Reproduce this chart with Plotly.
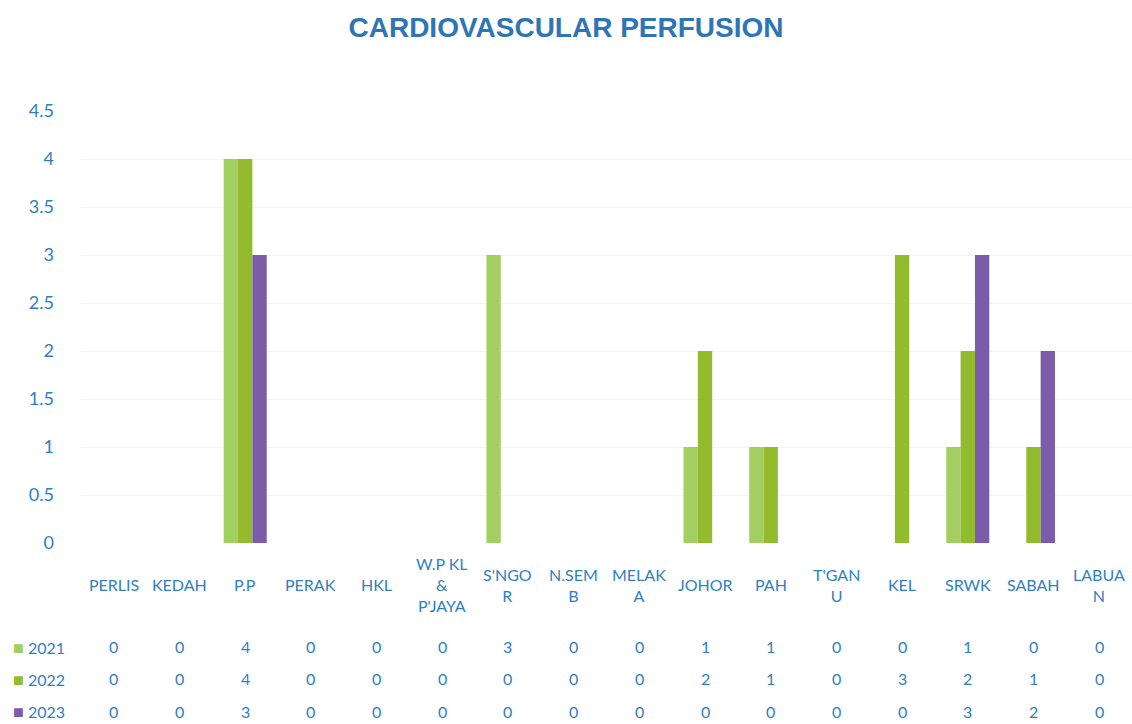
import plotly.graph_objects as go

categories = ["PERLIS", "KEDAH", "P.P", "PERAK", "HKL", "W.P KL & P'JAYA", "S'NGOR",
              "N.SEMB", "MELAKA", "JOHOR", "PAH", "T'GANU", "KEL", "SRWK", "SABAH", "LABUAN"]
cat_labels = ["PERLIS", "KEDAH", "P.P", "PERAK", "HKL", "W.P KL<br>&<br>P'JAYA", "S'NGO<br>R",
              "N.SEM<br>B", "MELAK<br>A", "JOHOR", "PAH", "T'GAN<br>U", "KEL", "SRWK", "SABAH", "LABUA<br>N"]
years = ["2021", "2022", "2023"]
v2021 = [0, 0, 4, 0, 0, 0, 3, 0, 0, 1, 1, 0, 0, 1, 0, 0]
v2022 = [0, 0, 4, 0, 0, 0, 0, 0, 0, 2, 1, 0, 3, 2, 1, 0]
v2023 = [0, 0, 3, 0, 0, 0, 0, 0, 0, 0, 0, 0, 0, 3, 2, 0]
series = [v2021, v2022, v2023]
colors = ["#a3cf62", "#93bb2e", "#7b5ca8"]
y_ticks = [0, 0.5, 1, 1.5, 2, 2.5, 3, 3.5, 4, 4.5]
y_tick_text = ["0", "0.5", "1", "1.5", "2", "2.5", "3", "3.5", "4", "4.5"]

blue = "#2f7fc1"
font_fam = "Lato, 'Open Sans', sans-serif"

fig = go.Figure()
for yr, vals, col in zip(years, series, colors):
    fig.add_trace(go.Bar(x=categories, y=vals, name=yr, marker=dict(color=col, line=dict(width=0)),
                         showlegend=False))

annotations = []
# category labels
for c, lab in zip(categories, cat_labels):
    annotations.append(dict(x=c, xref="x", y=-0.097, yref="paper", text=lab, showarrow=False,
                            xanchor="center", yanchor="middle",
                            font=dict(family=font_fam, size=16, color=blue)))
# data table rows
row_y = [-0.2407, -0.3148, -0.3889]
for yr, vals, col, ry in zip(years, series, colors, row_y):
    annotations.append(dict(x=-0.067, xref="paper", y=ry, yref="paper",
                            text=f'<span style="color:{col};font-size:18px">■</span> {yr}', showarrow=False,
                            xanchor="left", yanchor="middle",
                            font=dict(family=font_fam, size=16, color=blue)))
    for c, v in zip(categories, vals):
        annotations.append(dict(x=c, xref="x", y=ry, yref="paper", text=str(v), showarrow=False,
                                xanchor="center", yanchor="middle",
                                font=dict(family=font_fam, size=16, color=blue)))

fig.update_layout(
    width=1132, height=724,
    margin=dict(l=81, r=0, t=111, b=181),
    paper_bgcolor="white", plot_bgcolor="white",
    barmode="group", bargap=0.345, bargroupgap=0,
    title=dict(text="<b>CARDIOVASCULAR PERFUSION</b>", x=0.5, xanchor="center",
               y=1 - 27 / 724, yanchor="middle",
               font=dict(family="Arial, 'Liberation Sans', sans-serif", size=28, color="#2e75b6")),
    xaxis=dict(showticklabels=False, showgrid=False, zeroline=False, showline=False, ticks=""),
    yaxis=dict(range=[0, 4.5], tickvals=y_ticks, ticktext=y_tick_text, showgrid=True,
               gridcolor="#f4f4f4", gridwidth=1, zeroline=False, showline=False,
               ticklabelstandoff=26,
               tickfont=dict(family=font_fam, size=18, color=blue)),
    annotations=annotations,
)

fig.write_html("out.html", config={"displayModeBar": False},
               post_script="document.body.style.margin='0';document.body.style.overflow='hidden';")
